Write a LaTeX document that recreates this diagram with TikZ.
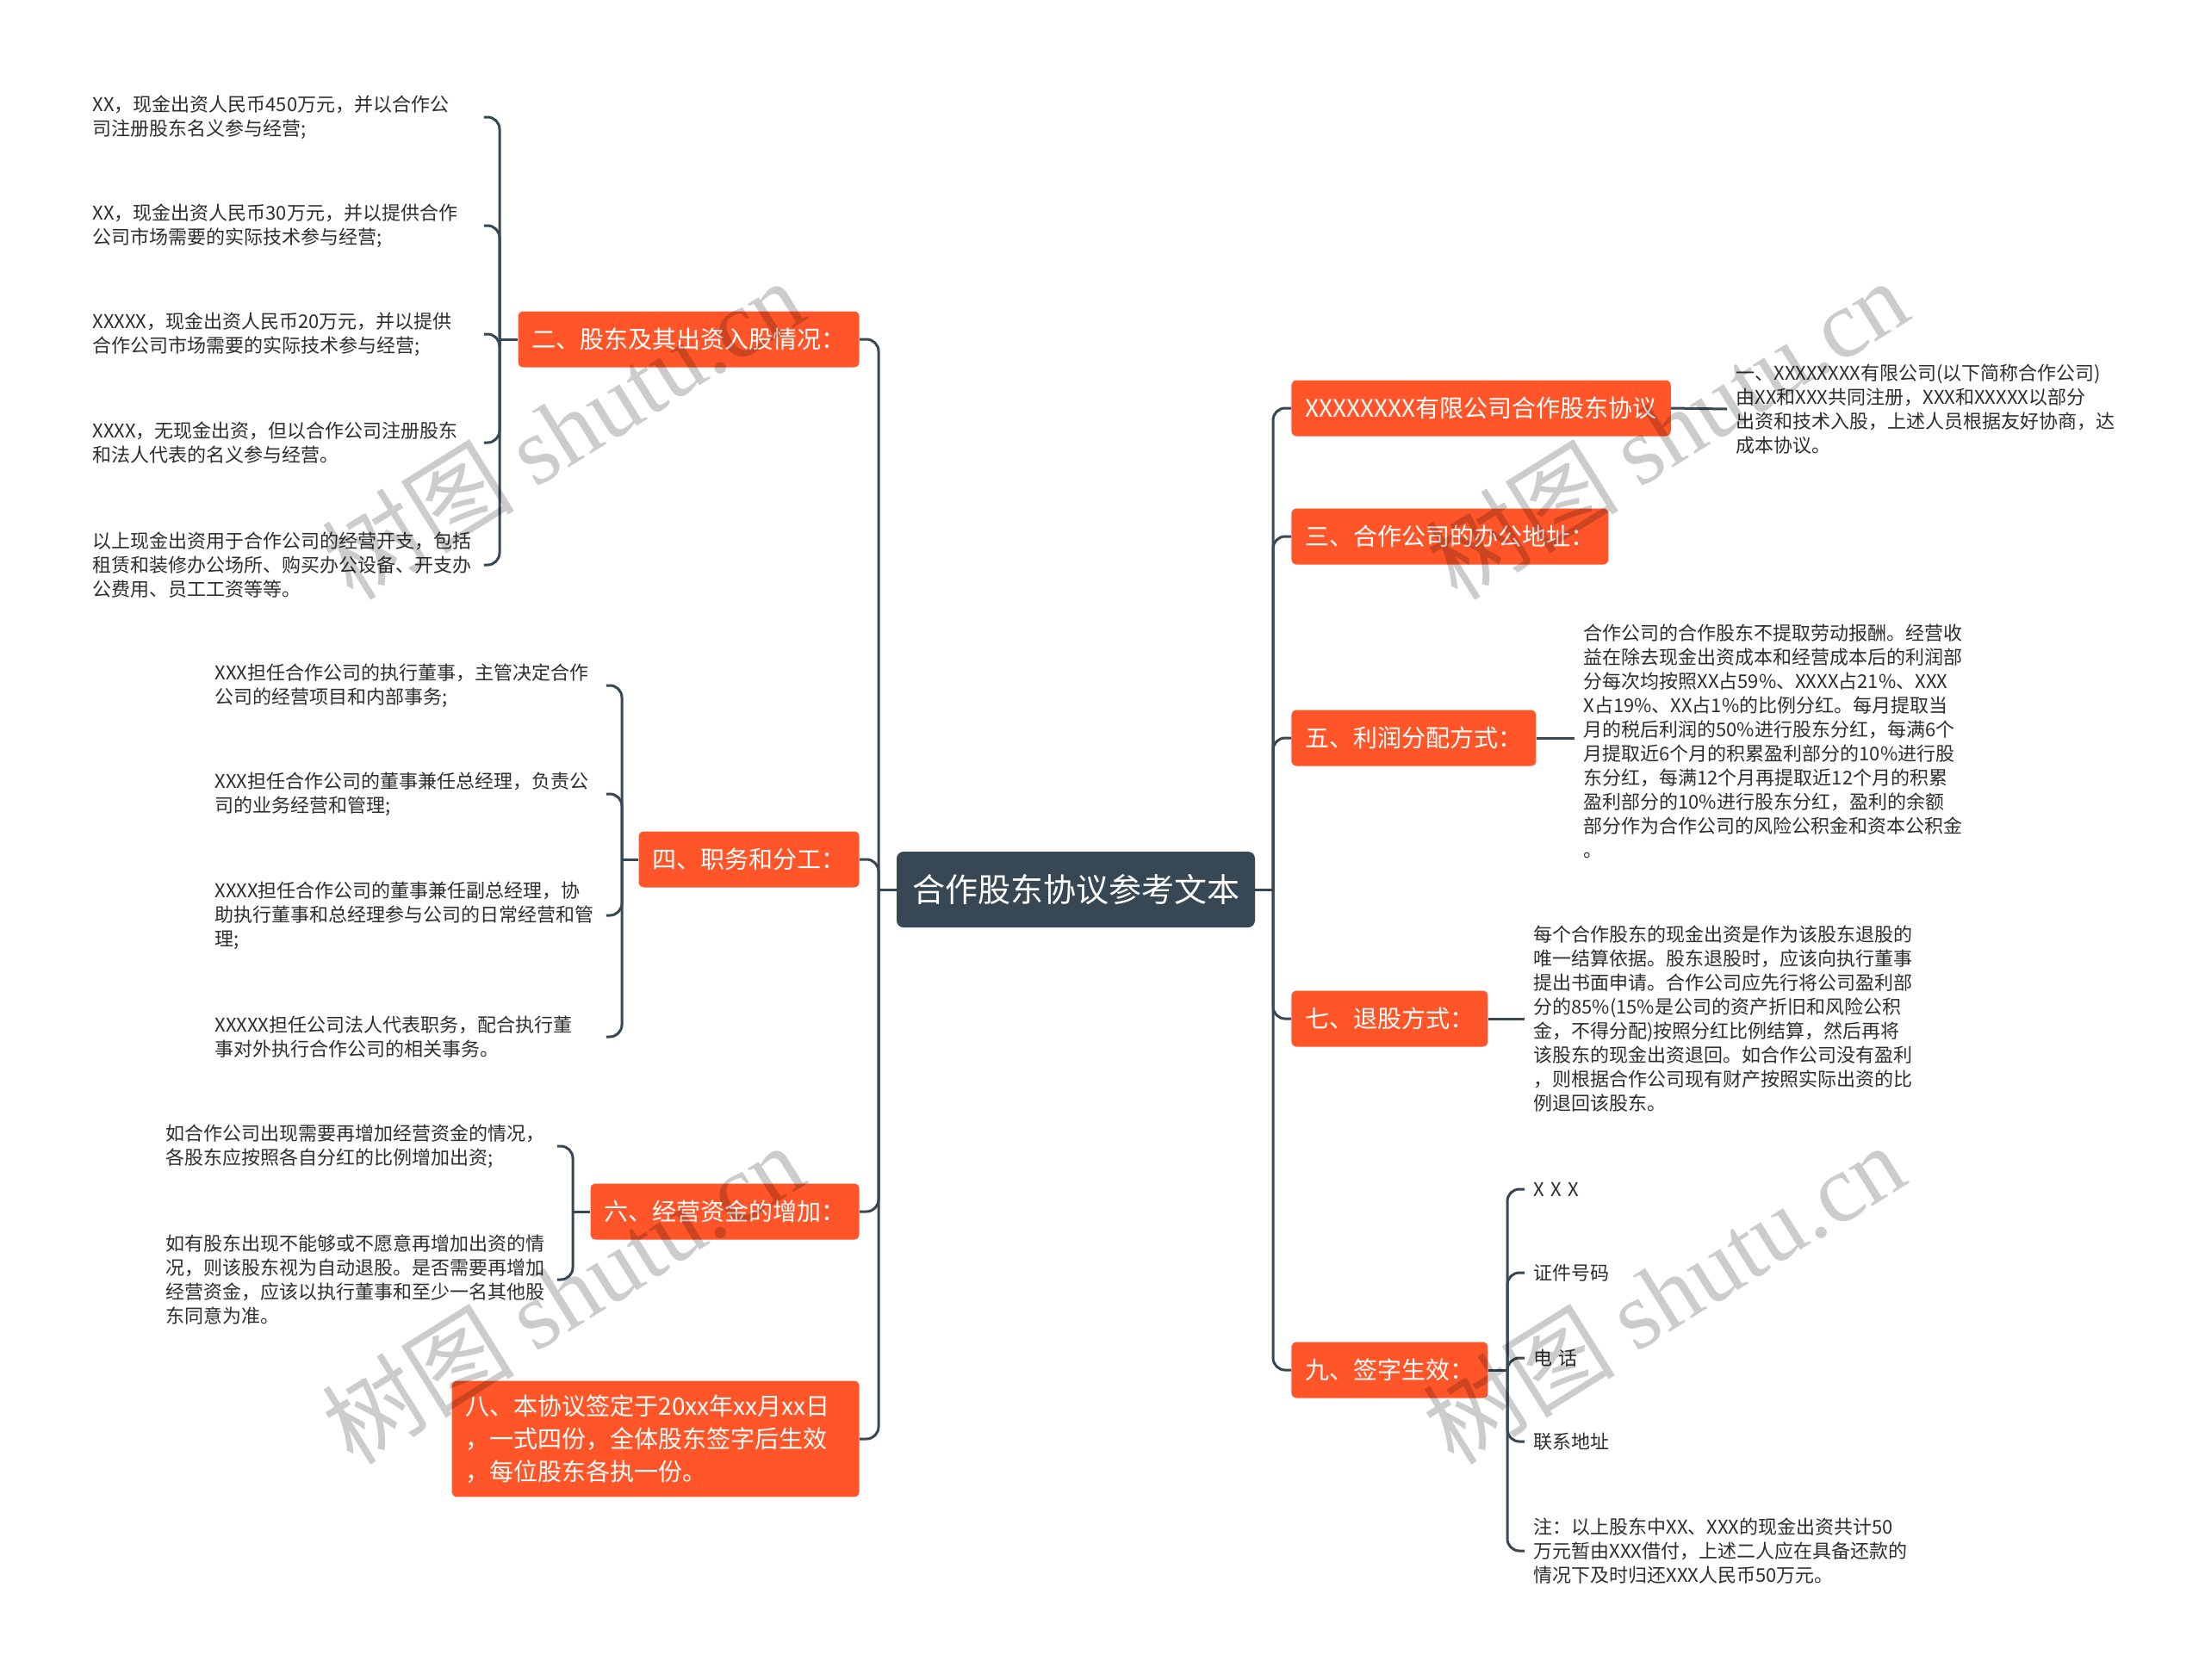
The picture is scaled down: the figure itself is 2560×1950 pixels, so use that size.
\documentclass[tikz,border=0pt]{standalone}
\usepackage{fontspec}
\setmainfont{Noto Sans CJK SC}
\newfontfamily\wmserif{Liberation Serif}
\definecolor{ink}{HTML}{374754}
\definecolor{org}{HTML}{FF5528}
\definecolor{leaftext}{HTML}{2E2E2E}
\begin{document}
\begin{tikzpicture}[x=0.5pt,y=-0.5pt,
  conn/.style={draw=ink, line width=1.5pt, rounded corners=7pt},
  rootbox/.style={fill=ink, text=white, rounded corners=4pt, font=\fontsize{19}{23}\selectfont, inner xsep=9pt, minimum height=44pt},
  branch/.style={fill=org, text=white, rounded corners=3pt, font=\fontsize{14}{19}\selectfont, inner xsep=8pt, minimum height=32.5pt},
  leaf/.style={text=leaftext, font=\fontsize{11}{14}\selectfont, align=left, text width=222pt, inner xsep=5pt, inner ysep=2pt, anchor=west},
  wm/.style={text=black, text opacity=0.2, rotate=32, font=\fontsize{56}{60}\selectfont, inner sep=0pt}]
\fill[white] (0,0) rectangle (2560,1950);
\useasboundingbox (0,0) rectangle (2560,1950);

% root
\node[rootbox] (root) at (1249,1033) {合作股东协议参考文本};

% left branches
\node[branch, anchor=east] (b2) at (998,394) {二、股东及其出资入股情况：};
\node[branch, anchor=east] (b4) at (998,998) {四、职务和分工：};
\node[branch, anchor=east] (b6) at (998,1407) {六、经营资金的增加：};
\node[branch, anchor=east, align=left, text width=220.5pt, inner ysep=8pt] (b8) at (998,1671) {八、本协议签定于20xx年xx月xx日\\，一式四份，全体股东签字后生效\\，每位股东各执一份。};

% right branches
\node[branch, anchor=west] (r1) at (1499,474) {XXXXXXXX有限公司合作股东协议};
\node[branch, anchor=west] (r3) at (1499,623) {三、合作公司的办公地址：};
\node[branch, anchor=west] (r5) at (1499,857) {五、利润分配方式：};
\node[branch, anchor=west] (r7) at (1499,1183) {七、退股方式：};
\node[branch, anchor=west] (r9) at (1499,1591) {九、签字生效：};

% leaves of b2
\node[leaf] (l21) at (97,136) {XX，现金出资人民币450万元，并以合作公\\司注册股东名义参与经营;};
\node[leaf] (l22) at (97,262) {XX，现金出资人民币30万元，并以提供合作\\公司市场需要的实际技术参与经营;};
\node[leaf] (l23) at (97,388) {XXXXX，现金出资人民币20万元，并以提供\\合作公司市场需要的实际技术参与经营;};
\node[leaf] (l24) at (97,514) {XXXX，无现金出资，但以合作公司注册股东\\和法人代表的名义参与经营。};
\node[leaf] (l25) at (97,656) {以上现金出资用于合作公司的经营开支，包括\\租赁和装修办公场所、购买办公设备、开支办\\公费用、员工工资等等。};

% leaves of b4
\node[leaf] (l41) at (239,796) {XXX担任合作公司的执行董事，主管决定合作\\公司的经营项目和内部事务;};
\node[leaf] (l42) at (239,922) {XXX担任合作公司的董事兼任总经理，负责公\\司的业务经营和管理;};
\node[leaf] (l43) at (239,1063) {XXXX担任合作公司的董事兼任副总经理，协\\助执行董事和总经理参与公司的日常经营和管\\理;};
\node[leaf] (l44) at (239,1204) {XXXXX担任公司法人代表职务，配合执行董\\事对外执行合作公司的相关事务。};

% leaves of b6
\node[leaf] (l61) at (182,1331) {如合作公司出现需要再增加经营资金的情况，\\各股东应按照各自分红的比例增加出资;};
\node[leaf] (l62) at (182,1486) {如有股东出现不能够或不愿意再增加出资的情\\况，则该股东视为自动退股。是否需要再增加\\经营资金，应该以执行董事和至少一名其他股\\东同意为准。};

% right leaves
\node[leaf] (t1) at (2005,475) {一、XXXXXXXX有限公司(以下简称合作公司)\\由XX和XXX共同注册，XXX和XXXXX以部分\\出资和技术入股，上述人员根据友好协商，达\\成本协议。};
\node[leaf] (t5) at (1828,861) {合作公司的合作股东不提取劳动报酬。经营收\\益在除去现金出资成本和经营成本后的利润部\\分每次均按照XX占59\%、XXXX占21\%、XXX\\X占19\%、XX占1\%的比例分红。每月提取当\\月的税后利润的50\%进行股东分红，每满6个\\月提取近6个月的积累盈利部分的10\%进行股\\东分红，每满12个月再提取近12个月的积累\\盈利部分的10\%进行股东分红，盈利的余额\\部分作为合作公司的风险公积金和资本公积金\\。};
\node[leaf] (t7) at (1770,1183) {每个合作股东的现金出资是作为该股东退股的\\唯一结算依据。股东退股时，应该向执行董事\\提出书面申请。合作公司应先行将公司盈利部\\分的85\%(15\%是公司的资产折旧和风险公积\\金，不得分配)按照分红比例结算，然后再将\\该股东的现金出资退回。如合作公司没有盈利\\，则根据合作公司现有财产按照实际出资的比\\例退回该股东。};
\node[leaf] (t91) at (1770,1381) {X X X};
\node[leaf] (t92) at (1770,1478) {证件号码};
\node[leaf] (t93) at (1770,1577) {电 话};
\node[leaf] (t94) at (1770,1674) {联系地址};
\node[leaf] (t95) at (1770,1801) {注：以上股东中XX、XXX的现金出资共计50\\万元暂由XXX借付，上述二人应在具备还款的\\情况下及时归还XXX人民币50万元。};

% junctions
\coordinate (jl) at (1020,1033);
\coordinate (jr) at (1478,1033);
\coordinate (j2) at (580,394);
\coordinate (j4) at (722,998);
\coordinate (j6) at (665,1407);
\coordinate (j9) at (1750,1591);

% trunk connectors
\draw[conn] (root.west) -- (jl);
\draw[conn] (root.east) -- (jr);
\foreach \n in {b2,b4,b6,b8} \draw[conn] (jl) |- (\n.east);
\foreach \n in {r1,r3,r5,r7,r9} \draw[conn] (jr) |- (\n.west);

% branch to leaves
\draw[conn] (b2.west) -- (j2);
\foreach \n in {l21,l22,l23,l24,l25} \draw[conn] (j2) |- (\n.east);
\draw[conn] (b4.west) -- (j4);
\foreach \n in {l41,l42,l43,l44} \draw[conn] (j4) |- (\n.east);
\draw[conn] (b6.west) -- (j6);
\foreach \n in {l61,l62} \draw[conn] (j6) |- (\n.east);
\draw[conn] (r1.east) -- (t1.west);
\draw[conn] (r5.east) -- (r5.east -| t5.west);
\draw[conn] (r7.east) -- (t7.west);
\draw[conn] (r9.east) -- (j9);
\foreach \n in {t91,t92,t93,t94,t95} \draw[conn] (j9) |- (\n.west);

% watermarks
\node[wm] (w1) at (653,498) {树图 {\wmserif shutu.cn}};
\node[wm] (w2) at (1935,498) {树图 {\wmserif shutu.cn}};
\node[wm] (w3) at (653,1502) {树图 {\wmserif shutu.cn}};
\node[wm] (w4) at (1931,1502) {树图 {\wmserif shutu.cn}};
\end{tikzpicture}
\end{document}
